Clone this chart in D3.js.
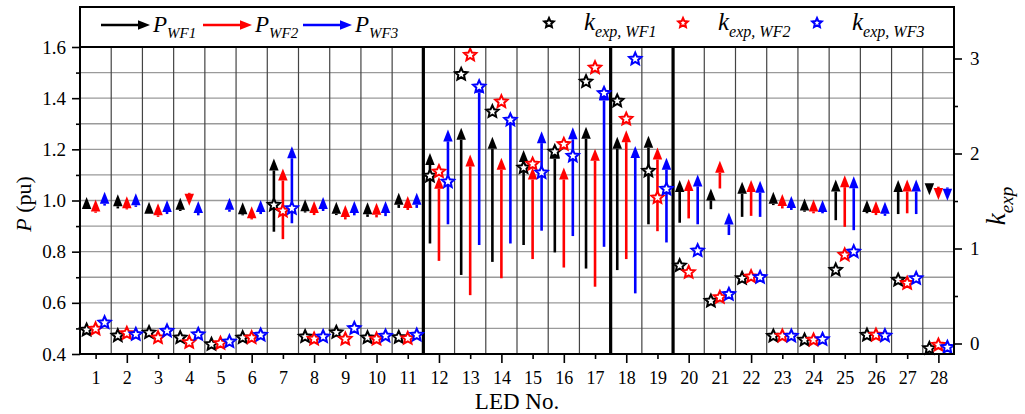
<!DOCTYPE html>
<html>
<head>
<meta charset="utf-8">
<script src="https://cdn.jsdelivr.net/npm/d3@7"></script>
<style>
	body { margin: 0; background: #fff; }
	text { font-family: "Liberation Serif", "Times New Roman", serif; fill: #000; }
</style>
</head>
<body>
<svg id="chart" width="1025" height="414"></svg>
<script>
// LED numbers (categories)
const ledNo = [1, 2, 3, 4, 5, 6, 7, 8, 9, 10, 11, 12, 13, 14, 15, 16, 17, 18, 19, 20, 21, 22, 23, 24, 25, 26, 27, 28];

// power arrows: [start, end] in pu, null = not shown
const pWF1 = [[0.966, 1.014], [0.969, 1.024], [0.947, 0.995], [0.959, 1.011], null, [0.942, 0.993], [0.878, 1.164],
	[0.953, 1.005], [0.943, 0.995], [0.936, 0.993], [0.971, 1.030], [0.832, 1.186], [0.709, 1.284], [0.760, 1.249],
	[0.826, 1.197], [0.797, 1.210], [0.734, 1.288], [0.728, 1.249], [0.907, 1.253], [0.913, 1.080], [0.966, 1.047],
	[0.936, 1.073], [0.982, 1.034], [0.956, 1.008], [0.923, 1.082], [0.950, 1.002], [0.947, 1.080], [1.069, 1.021]];
const pWF2 = [[0.952, 1.004], [0.965, 1.017], [0.936, 0.989], [1.030, 0.979], null, [0.926, 0.978], [0.849, 1.125],
	[0.943, 0.998], [0.926, 0.982], [0.934, 0.991], [0.963, 1.018], [0.764, 1.093], [0.630, 1.180], [0.696, 1.167],
	[0.771, 1.129], [0.738, 1.129], [0.663, 1.202], [0.771, 1.275], [0.880, 1.207], [0.930, 1.084], [1.047, 1.155],
	[0.940, 1.080], [0.969, 1.025], [0.950, 1.004], [0.897, 1.099], [0.943, 0.998], [0.950, 1.082], [1.054, 1.002]];
const pWF3 = [[0.980, 1.034], [0.975, 1.028], [0.947, 1.002], [0.942, 0.998], [0.956, 1.011], [0.947, 1.002], [0.911, 1.212],
	[0.959, 1.014], [0.942, 0.998], [0.939, 0.998], [0.971, 1.030], [0.907, 1.278], [0.826, 1.468], [0.832, 1.346],
	[0.882, 1.271], [0.861, 1.286], [0.819, 1.438], [0.637, 1.213], [0.836, 1.167], [0.907, 1.102], [0.865, 0.953],
	[0.936, 1.077], [0.963, 1.018], [0.950, 1.002], [0.884, 1.095], [0.940, 0.995], [0.947, 1.082], [1.051, 0.999]];

// k_exp values
const kWF1 = [0.142, 0.082, 0.114, 0.061, -0.009, 0.061, 1.458, 0.072, 0.117, 0.061, 0.065, 1.763, 2.834, 2.440,
	1.851, 2.019, 2.756, 2.553, 1.816, 0.819, 0.447, 0.686, 0.079, 0.037, 0.774, 0.089, 0.668, -0.051];
const kWF2 = [0.153, 0.107, 0.061, 0.012, 0.002, 0.061, 1.395, 0.047, 0.047, 0.047, 0.054, 1.809, 3.037, 2.545,
	1.889, 2.097, 2.903, 2.363, 1.535, 0.749, 0.486, 0.703, 0.079, 0.037, 0.932, 0.089, 0.634, -0.016];
const kWF3 = [0.219, 0.096, 0.132, 0.096, 0.019, 0.089, 1.423, 0.072, 0.160, 0.079, 0.089, 1.703, 2.703, 2.353,
	1.798, 1.974, 2.634, 2.995, 1.626, 0.977, 0.518, 0.697, 0.079, 0.044, 0.966, 0.082, 0.686, -0.040];

const seriesNames = ['WF1', 'WF2', 'WF3'];
const pTicks = [0.4, 0.6, 0.8, 1.0, 1.2, 1.4, 1.6];
const pMinorTicks = [0.5, 0.7, 0.9, 1.1, 1.3, 1.5];
const kTicks = [0, 1, 2, 3];
const kMinorTicks = [0.5, 1.5, 2.5];
const groupBreaks = [11.5, 17.5, 19.5];

const colors = ['#000000', '#ff0000', '#0000ff'];
const offsets = [-9, 0, 9];

var svg = d3.select('#chart');
var plotLeft = 80, plotRight = 954, plotTop = 47, plotBottom = 354, legendTop = 7;

var x = d3.scaleLinear().domain([0.5, 28.5]).range([plotLeft, plotRight]);
var yP = d3.scaleLinear().domain([0.4, 1.6]).range([plotBottom, plotTop]);
var yK = d3.scaleLinear().domain([0, 3]).range([343.5, 58.5]);

// grid
var grid = svg.append('g');
grid.selectAll('line.h')
	.data(pTicks.concat(pMinorTicks).filter(d => d > 0.45 && d < 1.55))
	.enter().append('line')
	.attr('x1', plotLeft).attr('x2', plotRight)
	.attr('y1', d => yP(d)).attr('y2', d => yP(d))
	.attr('stroke', '#9a9a9a').attr('stroke-width', 1.3);
grid.selectAll('line.v')
	.data(ledNo.slice(0, -1).map(d => d + 0.5))
	.enter().append('line')
	.attr('x1', d => x(d)).attr('x2', d => x(d))
	.attr('y1', plotTop).attr('y2', plotBottom)
	.attr('stroke', d => groupBreaks.indexOf(d) >= 0 ? '#000' : '#444')
	.attr('stroke-width', d => groupBreaks.indexOf(d) >= 0 ? 3.2 : 1.2);

// arrows
function drawArrow(g, xs, y0, y1, color, horizontal) {
	var headLen = 12, headW = 9.5;
	var dir = Math.sign(y1 - y0) || -1;
	var base = y1 - dir * headLen;
	if (Math.abs(y1 - y0) > headLen + 1) {
		if (horizontal)
			g.append('line').attr('y1', xs).attr('y2', xs).attr('x1', y0).attr('x2', base)
				.attr('stroke', color).attr('stroke-width', 2.6);
		else
			g.append('line').attr('x1', xs).attr('x2', xs).attr('y1', y0).attr('y2', base)
				.attr('stroke', color).attr('stroke-width', 2.6);
	}
	var pts = horizontal
		? [[y1, xs], [base, xs - headW / 2], [base, xs + headW / 2]]
		: [[xs, y1], [xs - headW / 2, base], [xs + headW / 2, base]];
	g.append('path').attr('d', 'M' + pts.join('L') + 'Z').attr('fill', color);
}

var arrowsG = svg.append('g');
[pWF1, pWF2, pWF3].forEach(function (series, s) {
	series.forEach(function (v, i) {
		if (!v) return;
		drawArrow(arrowsG, x(ledNo[i]) + offsets[s], yP(v[0]), yP(v[1]), colors[s], false);
	});
});

// stars
function starPath(R) {
	var pts = d3.range(10).map(i => [i * Math.PI / 5, i % 2 ? R * 0.47 : R]);
	return d3.lineRadial().curve(d3.curveLinearClosed)(pts);
}
var starsG = svg.append('g');
[kWF1, kWF2, kWF3].forEach(function (series, s) {
	starsG.selectAll(null)
		.data(series)
		.enter().append('path')
		.attr('d', starPath(6.4))
		.attr('transform', (d, i) => 'translate(' + (x(ledNo[i]) + offsets[s]) + ',' + yK(d) + ')')
		.attr('fill', '#fff')
		.attr('stroke', colors[s])
		.attr('stroke-width', 2)
		.attr('stroke-linejoin', 'miter');
});

// axes
svg.append('g').attr('transform', 'translate(' + plotLeft + ',0)')
	.call(d3.axisLeft(yP).tickValues(pTicks).tickFormat(d3.format('.1f')).tickSize(8).tickPadding(6));
svg.append('g').attr('transform', 'translate(' + plotLeft + ',0)')
	.call(d3.axisLeft(yP).tickValues(pMinorTicks).tickFormat('').tickSize(4));

svg.append('g').attr('transform', 'translate(' + plotRight + ',0)')
	.call(d3.axisRight(yK).tickValues(kTicks).tickFormat(d3.format('d')).tickSize(8).tickPadding(8));
svg.append('g').attr('transform', 'translate(' + plotRight + ',0)')
	.call(d3.axisRight(yK).tickValues(kMinorTicks).tickFormat('').tickSize(4));

var bottomAxis = svg.append('g').attr('transform', 'translate(0,' + plotBottom + ')')
	.call(d3.axisBottom(x).tickValues(ledNo).tickFormat(d3.format('d')).tickSize(5));
bottomAxis.selectAll('.tick line').attr('y2', d => d % 2 ? 5 : 9);
bottomAxis.selectAll('.tick text').attr('dy', null).attr('y', 30);

svg.selectAll('.domain').remove();
svg.selectAll('.tick line').attr('stroke', '#000').attr('stroke-width', 1.6);
svg.selectAll('.tick text').attr('font-family', null).style('font-size', '19px');
bottomAxis.selectAll('.tick text').style('font-size', '18px');

// frame
svg.append('rect')
	.attr('x', plotLeft).attr('y', legendTop)
	.attr('width', plotRight - plotLeft).attr('height', plotBottom - legendTop)
	.attr('fill', 'none').attr('stroke', '#000').attr('stroke-width', 2);
svg.append('line')
	.attr('x1', plotLeft).attr('x2', plotRight).attr('y1', plotTop).attr('y2', plotTop)
	.attr('stroke', '#000').attr('stroke-width', 2);

// legend
var legend = svg.append('g');
var legendArrowX = [101, 203, 303];
var legendStarX = [549, 683, 817];
seriesNames.forEach(function (name, s) {
	drawArrow(legend, 25, legendArrowX[s], legendArrowX[s] + 49, colors[s], true);
	var t = legend.append('text').attr('x', legendArrowX[s] + 52).attr('y', 32).style('font-style', 'italic');
	t.append('tspan').style('font-size', '23px').text('P');
	t.append('tspan').style('font-size', '15px').attr('dy', 6).text(name);

	legend.append('path')
		.attr('d', starPath(5))
		.attr('transform', 'translate(' + legendStarX[s] + ',23)')
		.attr('fill', '#fff').attr('stroke', colors[s]).attr('stroke-width', 2);
	var k = legend.append('text').attr('x', legendStarX[s] + 35).attr('y', 30).style('font-style', 'italic');
	k.append('tspan').style('font-size', '25px').text('k');
	k.append('tspan').style('font-size', '16px').attr('dy', 7).text('exp, ' + name);
});

// axis titles
var pTitle = svg.append('text')
	.attr('transform', 'translate(31,204) rotate(-90)')
	.attr('text-anchor', 'middle')
	.style('font-size', '22px');
pTitle.append('tspan').style('font-style', 'italic').text('P');
pTitle.append('tspan').text(' (pu)');

var kTitle = svg.append('text')
	.attr('transform', 'translate(1005,206) rotate(-90)')
	.attr('text-anchor', 'middle')
	.style('font-style', 'italic');
kTitle.append('tspan').style('font-size', '27px').text('k');
kTitle.append('tspan').style('font-size', '19px').attr('dy', 8).text('exp');

svg.append('text')
	.attr('x', (plotLeft + plotRight) / 2).attr('y', 409)
	.attr('text-anchor', 'middle')
	.style('font-size', '23px')
	.text('LED No.');
</script>
</body>
</html>
